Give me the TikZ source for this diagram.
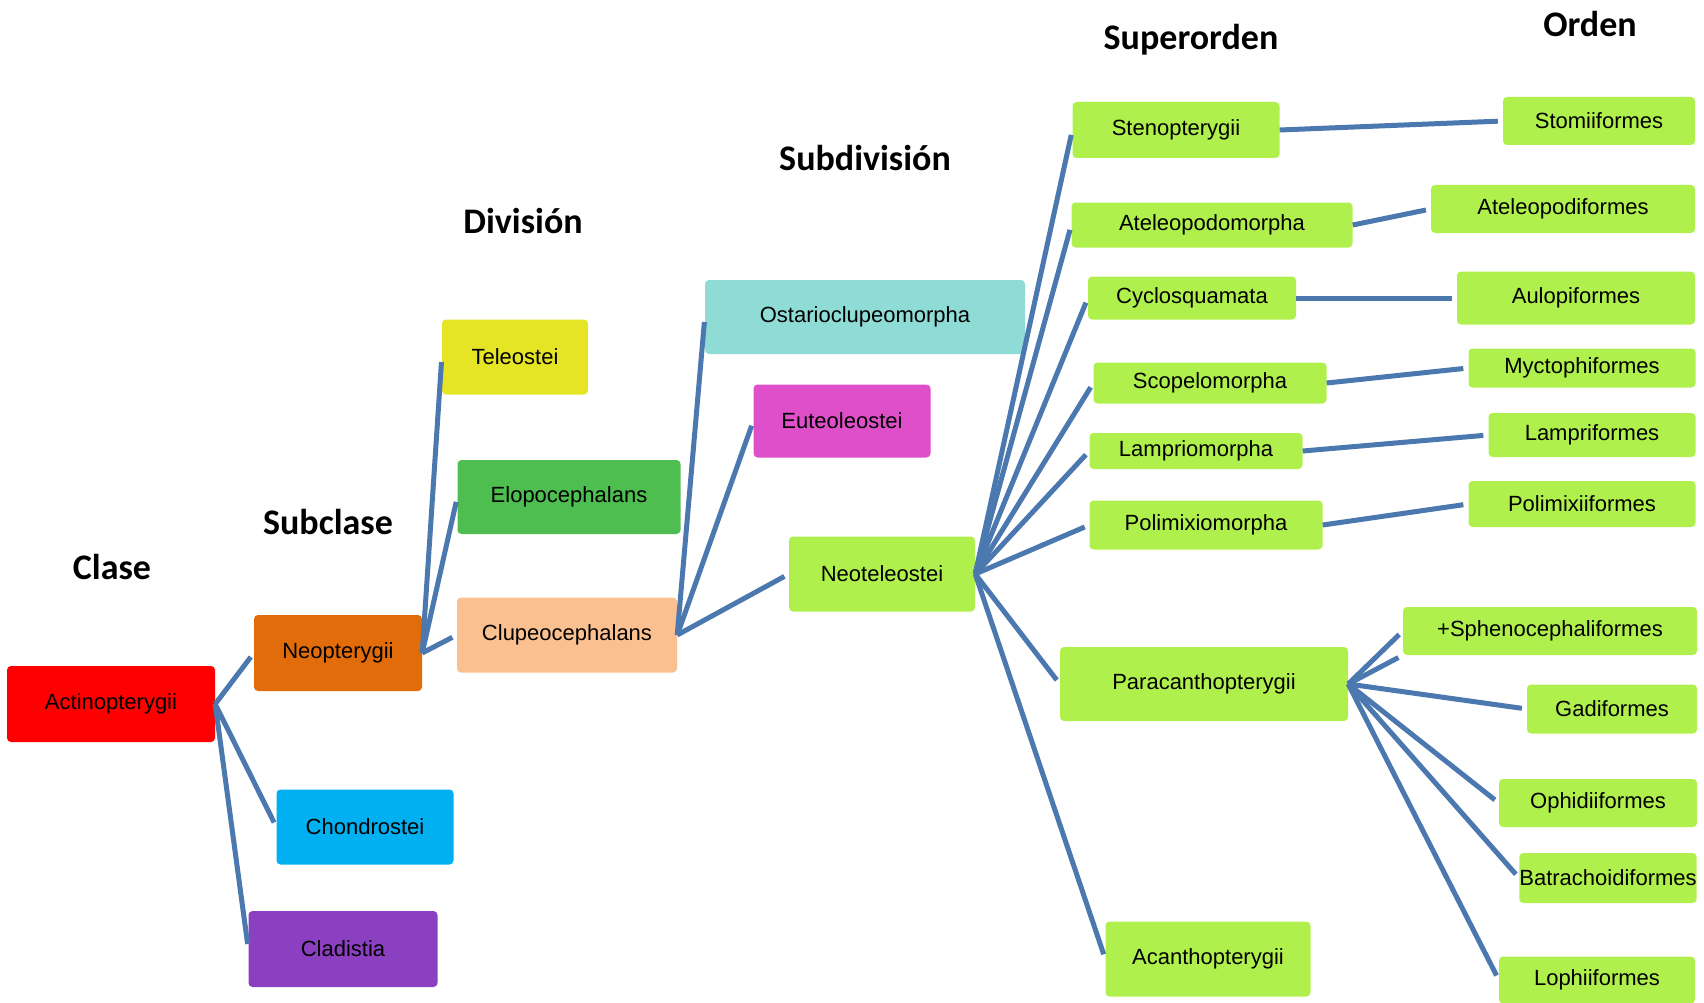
\documentclass[tikz,border=0pt]{standalone}
\usepackage{fontspec}
\setmainfont{Liberation Sans}
\newfontfamily\headfont{Carlito}
\usepackage{xcolor}
\definecolor{linkblue}{HTML}{4A78AF}
\definecolor{cRed}{HTML}{FF0000}
\definecolor{cOrange}{HTML}{E36C0A}
\definecolor{cCyan}{HTML}{00B0F0}
\definecolor{cPurple}{HTML}{8B40C1}
\definecolor{cYellow}{HTML}{E5E526}
\definecolor{cGreen}{HTML}{4DBE4F}
\definecolor{cPeach}{HTML}{FAC090}
\definecolor{cTeal}{HTML}{8EDCD5}
\definecolor{cMagenta}{HTML}{DF4FC9}
\definecolor{cLime}{HTML}{B0F04C}

\begin{document}
\begin{tikzpicture}[x=1pt,y=-1pt,
    taxon/.style={fill=#1, rounded corners=4pt, inner sep=0pt, font=\fontsize{22}{26}\selectfont},
    rank/.style={font=\headfont\bfseries\fontsize{36}{42}\selectfont},
    link/.style={draw=linkblue, line width=5pt, shorten >=5pt}]
    \useasboundingbox (0,0) rectangle (1704,1003);

    % Rank titles
    \node[rank] (tclase) at (112,567) {Clase};
    \node[rank] (tsubclase) at (328,522) {Subclase};
    \node[rank] (tdivision) at (523,221) {División};
    \node[rank] (tsubdivision) at (865,158) {Subdivisión};
    \node[rank] (tsuperorden) at (1191,40) {Superorden};
    \node[rank] (torden) at (1590,24) {Orden};

    % Clase and subclases
    \node[taxon=cRed, minimum width=208pt, minimum height=76pt] (actino) at (111,704) {Actinopterygii};
    \node[taxon=cOrange, minimum width=168pt, minimum height=76pt] (neop) at (338,653) {Neopterygii};
    \node[taxon=cCyan, minimum width=177pt, minimum height=75pt] (chond) at (365,827) {Chondrostei};
    \node[taxon=cPurple, minimum width=189pt, minimum height=76pt] (clad) at (343,949) {Cladistia};

    % Divisiones
    \node[taxon=cYellow, minimum width=146pt, minimum height=75pt] (teleo) at (515,357) {Teleostei};
    \node[taxon=cGreen, minimum width=223pt, minimum height=74pt] (elopo) at (569,497) {Elopocephalans};
    \node[taxon=cPeach, minimum width=220pt, minimum height=75pt] (clupeo) at (567,635) {Clupeocephalans};

    % Subdivisiones
    \node[taxon=cTeal, minimum width=320pt, minimum height=74pt] (ostario) at (865,317) {Ostarioclupeomorpha};
    \node[taxon=cMagenta, minimum width=177pt, minimum height=73pt] (euteo) at (842,421) {Euteoleostei};
    \node[taxon=cLime, minimum width=186pt, minimum height=75pt] (neotel) at (882,574) {Neoteleostei};

    % Superordenes
    \node[taxon=cLime, minimum width=207pt, minimum height=56pt] (steno) at (1176,130) {Stenopterygii};
    \node[taxon=cLime, minimum width=281pt, minimum height=45pt] (atelm) at (1212,225) {Ateleopodomorpha};
    \node[taxon=cLime, minimum width=208pt, minimum height=43pt] (cyclo) at (1192,298) {Cyclosquamata};
    \node[taxon=cLime, minimum width=233pt, minimum height=41pt] (scope) at (1210,383) {Scopelomorpha};
    \node[taxon=cLime, minimum width=213pt, minimum height=36pt] (lampm) at (1196,451) {Lampriomorpha};
    \node[taxon=cLime, minimum width=233pt, minimum height=49pt] (polim) at (1206,525) {Polimixiomorpha};
    \node[taxon=cLime, minimum width=288pt, minimum height=74pt] (parac) at (1204,684) {Paracanthopterygii};
    \node[taxon=cLime, minimum width=205pt, minimum height=75pt] (acant) at (1208,959) {Acanthopterygii};

    % Ordenes
    \node[taxon=cLime, minimum width=192pt, minimum height=48pt] (stomi) at (1599,121) {Stomiiformes};
    \node[taxon=cLime, minimum width=264pt, minimum height=48pt] (atelf) at (1563,209) {Ateleopodiformes};
    \node[taxon=cLime, minimum width=238pt, minimum height=53pt] (aulop) at (1576,298) {Aulopiformes};
    \node[taxon=cLime, minimum width=227pt, minimum height=39pt] (mycto) at (1582,368) {Myctophiformes};
    \node[taxon=cLime, minimum width=207pt, minimum height=44pt] (lampf) at (1592,435) {Lampriformes};
    \node[taxon=cLime, minimum width=227pt, minimum height=46pt] (polif) at (1582,504) {Polimixiiformes};
    \node[taxon=cLime, minimum width=294pt, minimum height=48pt] (sphen) at (1550,631) {+Sphenocephaliformes};
    \node[taxon=cLime, minimum width=170pt, minimum height=49pt] (gadi) at (1612,709) {Gadiformes};
    \node[taxon=cLime, minimum width=198pt, minimum height=48pt] (ophid) at (1598,803) {Ophidiiformes};
    \node[taxon=cLime, minimum width=175pt, minimum height=50pt] (batra) at (1608,878) {Batrachoidiformes};
    \node[taxon=cLime, minimum width=196pt, minimum height=47pt] (lophi) at (1597,980) {Lophiiformes};

    % Connectors
    \foreach \a/\b in {actino/neop, actino/chond, actino/clad,
                       neop/teleo, neop/elopo, neop/clupeo,
                       clupeo/ostario, clupeo/euteo, clupeo/neotel,
                       neotel/steno, neotel/atelm, neotel/cyclo, neotel/scope,
                       neotel/lampm, neotel/polim, neotel/parac, neotel/acant,
                       steno/stomi, atelm/atelf, cyclo/aulop, scope/mycto,
                       lampm/lampf, polim/polif,
                       parac/sphen, parac/gadi, parac/ophid, parac/batra, parac/lophi}
        \draw[link] (\a.east) -- (\b.west);
    \draw[link] (parac.east) -- (sphen.south west);
\end{tikzpicture}
\end{document}
